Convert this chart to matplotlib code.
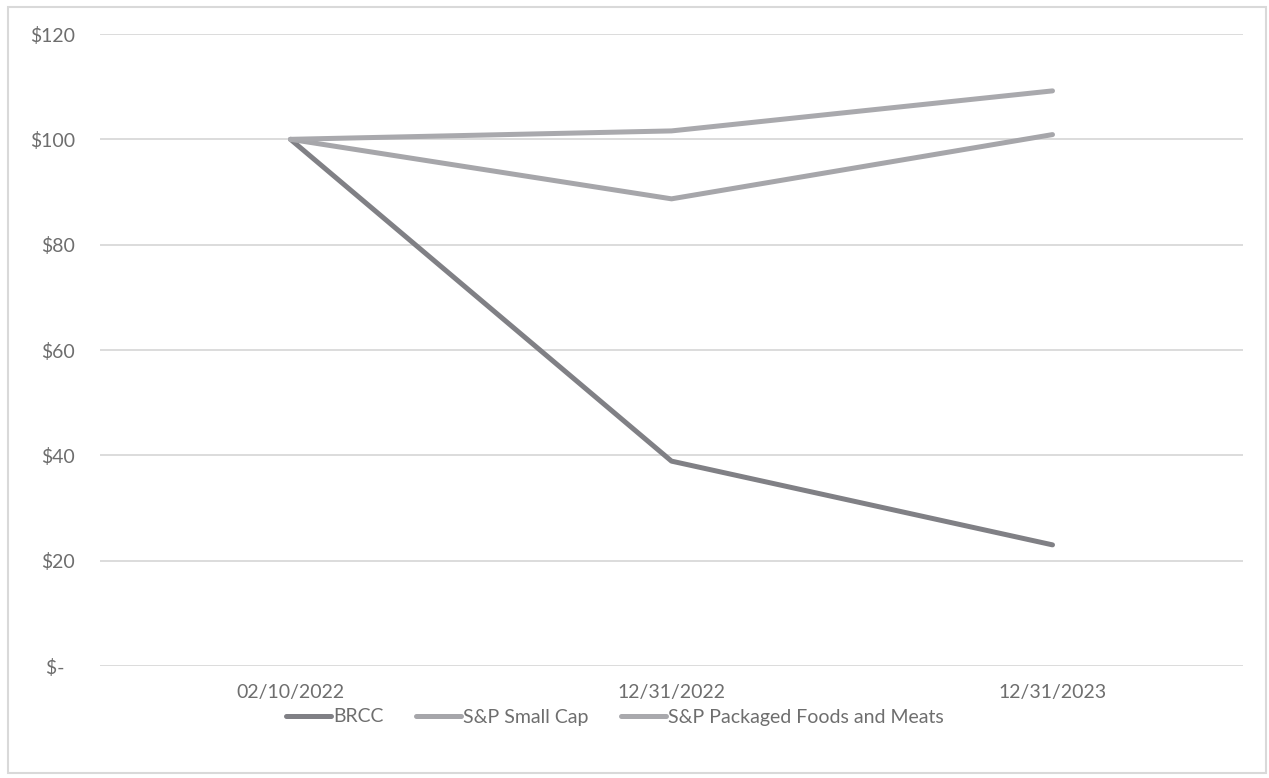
import matplotlib.pyplot as plt
from matplotlib.patches import Rectangle

dates = ["02/10/2022", "12/31/2022", "12/31/2023"]
brcc = [100, 38.9, 23.0]
small_cap = [100, 88.7, 100.9]
packaged_foods = [100, 101.6, 109.2]
y_ticks = [0, 20, 40, 60, 80, 100, 120]
y_labels = ["$-\u00a0\u00a0", "$20", "$40", "$60", "$80", "$100", "$120"]

plt.rcParams['font.family'] = ['Lato', 'DejaVu Sans']

W, H = 1269, 778
fig = plt.figure(figsize=(W / 100, H / 100), dpi=100)
ax = fig.add_axes([100 / W, 1 - 666 / H, (1243 - 100) / W, (666 - 34) / H])

text_col = "#6e6e6e"
fs = 14
x = range(len(dates))
l1, = ax.plot(x, brcc, color="#808085", lw=3.6, solid_capstyle='round', label="BRCC", zorder=3)
l2, = ax.plot(x, small_cap, color="#a6a6aa", lw=3.6, solid_capstyle='round', label="S&P Small Cap", zorder=3)
l3, = ax.plot(x, packaged_foods, color="#a9a9ad", lw=3.6, solid_capstyle='round',
              label="S&P Packaged Foods and Meats", zorder=3)

ax.set_xlim(-0.5, 2.5)
ax.set_ylim(0, 120)
ax.set_yticks(y_ticks)
ax.set_yticklabels(y_labels)
ax.set_xticks(list(x))
ax.set_xticklabels(dates)
ax.yaxis.grid(True, color="#d9d9d9", lw=1.3)
ax.set_axisbelow(True)
for s in ax.spines.values():
    s.set_visible(False)
ax.tick_params(axis='both', length=0, labelsize=fs, colors=text_col)
ax.tick_params(axis='y', pad=18)
ax.tick_params(axis='x', pad=13)

leg = fig.legend(handles=[l1, l2, l3], loc='center', bbox_to_anchor=(615 / W, 1 - 717 / H),
                 ncol=3, frameon=False, fontsize=fs, handlelength=2.3, handletextpad=0.1,
                 columnspacing=1.7, labelcolor=text_col)

fig.patches.append(Rectangle((8 / W, 5 / H), (1266 - 8) / W, (771 - 5) / H,
                             transform=fig.transFigure, fill=False, ec="#d9d9d9", lw=1.5))

fig.savefig("out.png", dpi=100)
